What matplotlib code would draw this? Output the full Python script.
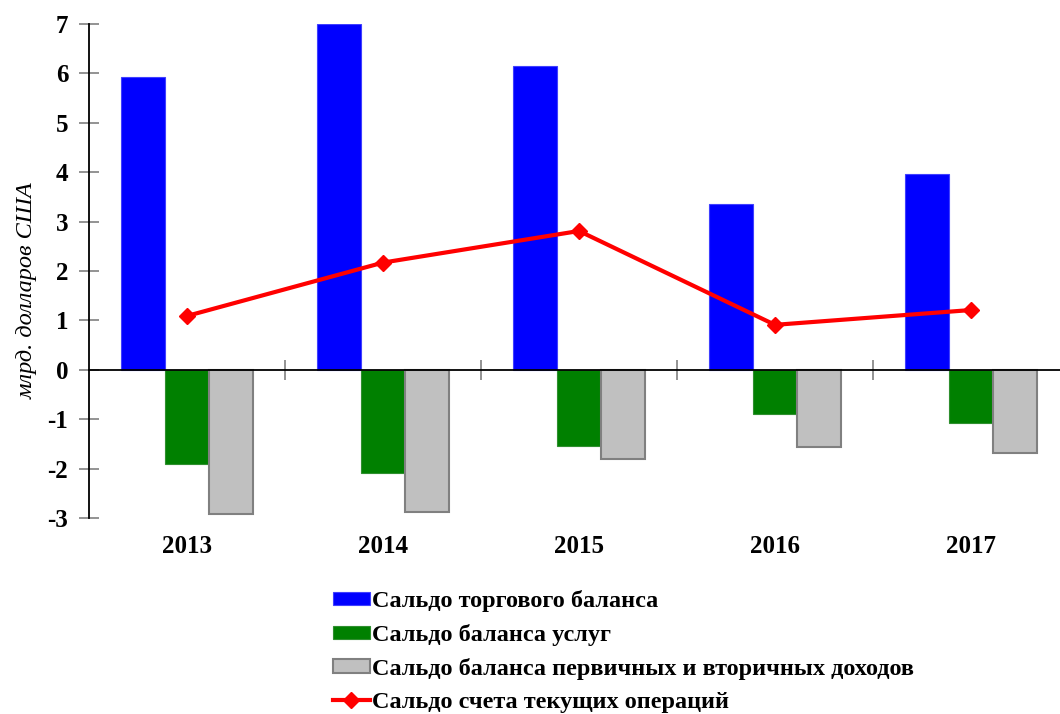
import numpy as np
import matplotlib.pyplot as plt

plt.rcParams['font.family'] = ['Liberation Serif', 'DejaVu Serif']

years = ['2013', '2014', '2015', '2016', '2017']
trade = [5.93, 7.0, 6.14, 3.36, 3.97]
services = [-1.90, -2.09, -1.54, -0.89, -1.07]
income = [-2.91, -2.87, -1.80, -1.56, -1.68]
current = [1.09, 2.17, 2.81, 0.91, 1.21]

labels = ['Сальдо торгового баланса',
          'Сальдо баланса услуг',
          'Сальдо баланса первичных и вторичных доходов',
          'Сальдо счета текущих операций']

fig = plt.figure(figsize=(10.6, 7.14), dpi=100)
ax = fig.add_axes([89/1060, (714-518)/714, 980/1060, 494/714])

x = np.arange(len(years))
w = 0.225
b1 = ax.bar(x - w, trade, w, color='#0000ff', edgecolor='#4040ff', linewidth=0.8, label=labels[0])
b2 = ax.bar(x, services, w, color='#008000', edgecolor='#2f8f2f', linewidth=0.8, label=labels[1])
b3 = ax.bar(x + w, income, w, color='#c0c0c0', edgecolor='#808080', linewidth=1.5, label=labels[2])
ln, = ax.plot(x, current, color='#ff0000', lw=3, marker='D', ms=8.5, label=labels[3], zorder=5)

ax.set_xlim(-0.5, 4.5)
ax.set_ylim(-3, 7)

# axes lines
for s in ['top', 'right']:
    ax.spines[s].set_visible(False)
ax.spines['bottom'].set_position(('data', 0))
ax.spines['bottom'].set_linewidth(1.3)
ax.spines['left'].set_linewidth(1.3)

ax.set_yticks(range(-3, 8))
ax.set_yticklabels([str(v) for v in range(-3, 8)], fontsize=18, fontweight='bold')
ax.tick_params(axis='y', direction='inout', length=14, color='#808080', width=1.2, pad=8)

ax.set_xticks(x[:-1] + 0.5)
ax.set_xticklabels([])
ax.tick_params(axis='x', direction='inout', length=14, color='#808080', width=1.2)

for xi, yr in zip(x, years):
    ax.text(xi, -0.057, yr, transform=ax.get_xaxis_transform(), ha='center', va='center',
            fontsize=18, fontweight='bold')

ax.set_ylabel('млрд. долларов США', fontsize=17.5, fontstyle='italic')
ax.yaxis.set_label_coords(-0.052, 0.46)

fig.legend(handles=[b1, b2, b3, ln], labels=labels, loc='upper left',
           bbox_to_anchor=(321/1060, 1 - 578/714), frameon=False,
           prop={'size': 17.5, 'weight': 'bold'}, handlelength=1.5, handleheight=0.5,
           handletextpad=0.1, labelspacing=0.49, borderpad=0)

fig.savefig('out.png', dpi=100)
